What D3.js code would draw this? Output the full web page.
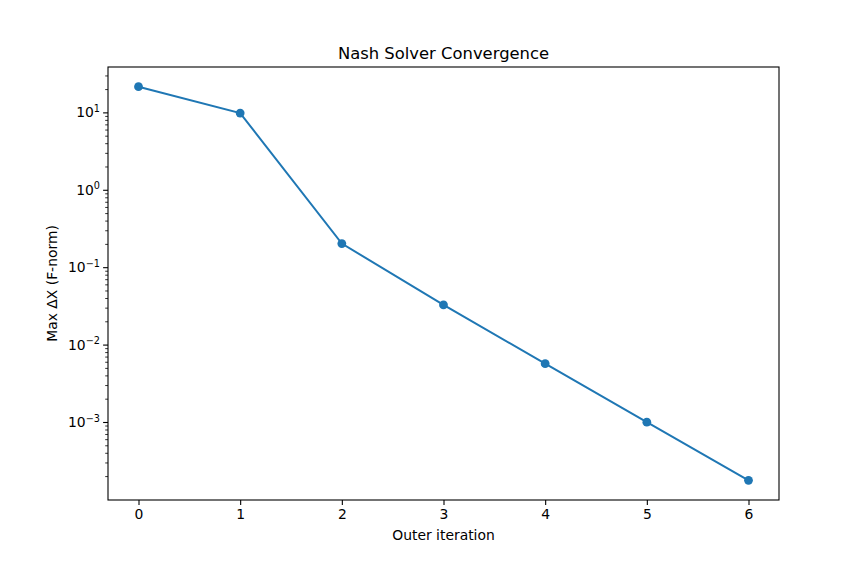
<!DOCTYPE html>
<html>
<head>
<meta charset="utf-8">
<script src="https://cdn.jsdelivr.net/npm/d3@7"></script>
<style>
  body { margin: 0; background: #fff; }
  text { font-family: "DejaVu Sans", sans-serif; fill: #000; }
</style>
</head>
<body>
<script>
// Data
const iterations = [0, 1, 2, 3, 4, 5, 6];
const maxDelta = [21.8, 9.95, 0.205, 0.033, 0.00575, 0.00101, 0.000179];
const xTicks = [0, 1, 2, 3, 4, 5, 6];
const yExponents = [-3, -2, -1, 0, 1];

const W = 866, H = 562;
const margin = {top: 67, right: 87, bottom: 62, left: 108};
const width = W - margin.left - margin.right,
      height = H - margin.top - margin.bottom;

const svg = d3.select("body").append("svg")
    .attr("width", W)
    .attr("height", H);

const g = svg.append("g")
    .attr("transform", `translate(${margin.left},${margin.top})`);

// x scale, matplotlib-style 5% padding
const xPad = (d3.max(iterations) - d3.min(iterations)) * 0.05;
const x = d3.scaleLinear()
    .domain([d3.min(iterations) - xPad, d3.max(iterations) + xPad])
    .range([0, width]);

// y scale (log), 5% padding in log space
const lmin = Math.log10(d3.min(maxDelta)), lmax = Math.log10(d3.max(maxDelta));
const lpad = (lmax - lmin) * 0.05;
const y = d3.scaleLog()
    .domain([Math.pow(10, lmin - lpad), Math.pow(10, lmax + lpad)])
    .range([height, 0]);

// x axis
const xAxis = g.append("g")
    .attr("transform", `translate(0,${height})`)
    .call(d3.axisBottom(x).tickValues(xTicks).tickFormat(d3.format("d")).tickSize(4.9).tickPadding(4));
xAxis.select(".domain").remove();
xAxis.selectAll("text").style("font-size", "13.9px").style("font-family", "DejaVu Sans");
xAxis.selectAll("line").attr("stroke", "#000").attr("stroke-width", 1.1);

// y axis minor ticks
const [d0, d1] = y.domain();
const minor = [];
for (let e = Math.floor(Math.log10(d0)); e <= Math.ceil(Math.log10(d1)); e++) {
  for (let m = 2; m <= 9; m++) {
    const v = m * Math.pow(10, e);
    if (v >= d0 && v <= d1) minor.push(v);
  }
}
g.append("g").selectAll("line")
    .data(minor)
    .join("line")
    .attr("x1", -2.8).attr("x2", 0)
    .attr("y1", d => y(d)).attr("y2", d => y(d))
    .attr("stroke", "#000").attr("stroke-width", 0.8);

// y axis major ticks
const yMajor = g.append("g");
const yt = yMajor.selectAll("g")
    .data(yExponents)
    .join("g")
    .attr("transform", d => `translate(0,${y(Math.pow(10, d))})`);
yt.append("line")
    .attr("x1", -4.9).attr("x2", 0)
    .attr("stroke", "#000").attr("stroke-width", 1.1);
const ytxt = yt.append("text")
    .attr("x", -8)
    .attr("dy", "0.32em")
    .attr("text-anchor", "end")
    .style("font-size", "13.9px");
ytxt.append("tspan").text("10");
ytxt.append("tspan")
    .attr("dy", "-0.55em")
    .style("font-size", "9.7px")
    .text(d => d < 0 ? "\u2212" + Math.abs(d) : d);

// frame
g.append("rect")
    .attr("width", width).attr("height", height)
    .attr("fill", "none").attr("stroke", "#000").attr("stroke-width", 1.1);

// line + markers
const pts = iterations.map((d, i) => ({it: d, v: maxDelta[i]}));
g.append("path")
    .datum(pts)
    .attr("fill", "none")
    .attr("stroke", "#1f77b4")
    .attr("stroke-width", 2)
    .attr("d", d3.line().x(d => x(d.it)).y(d => y(d.v)));
g.selectAll(".dot")
    .data(pts)
    .join("circle")
    .attr("class", "dot")
    .attr("cx", d => x(d.it))
    .attr("cy", d => y(d.v))
    .attr("r", 4.4)
    .attr("fill", "#1f77b4");

// title
svg.append("text")
    .attr("x", margin.left + width / 2)
    .attr("y", margin.top - 8)
    .attr("text-anchor", "middle")
    .style("font-size", "16.4px")
    .text("Nash Solver Convergence");

// x label
svg.append("text")
    .attr("x", margin.left + width / 2)
    .attr("y", margin.top + height + 40)
    .attr("text-anchor", "middle")
    .style("font-size", "13.9px")
    .text("Outer iteration");

// y label
svg.append("text")
    .attr("transform", `translate(57,${margin.top + height / 2}) rotate(-90)`)
    .attr("text-anchor", "middle")
    .style("font-size", "13.9px")
    .text("Max \u0394X (F-norm)");
</script>
</body>
</html>
